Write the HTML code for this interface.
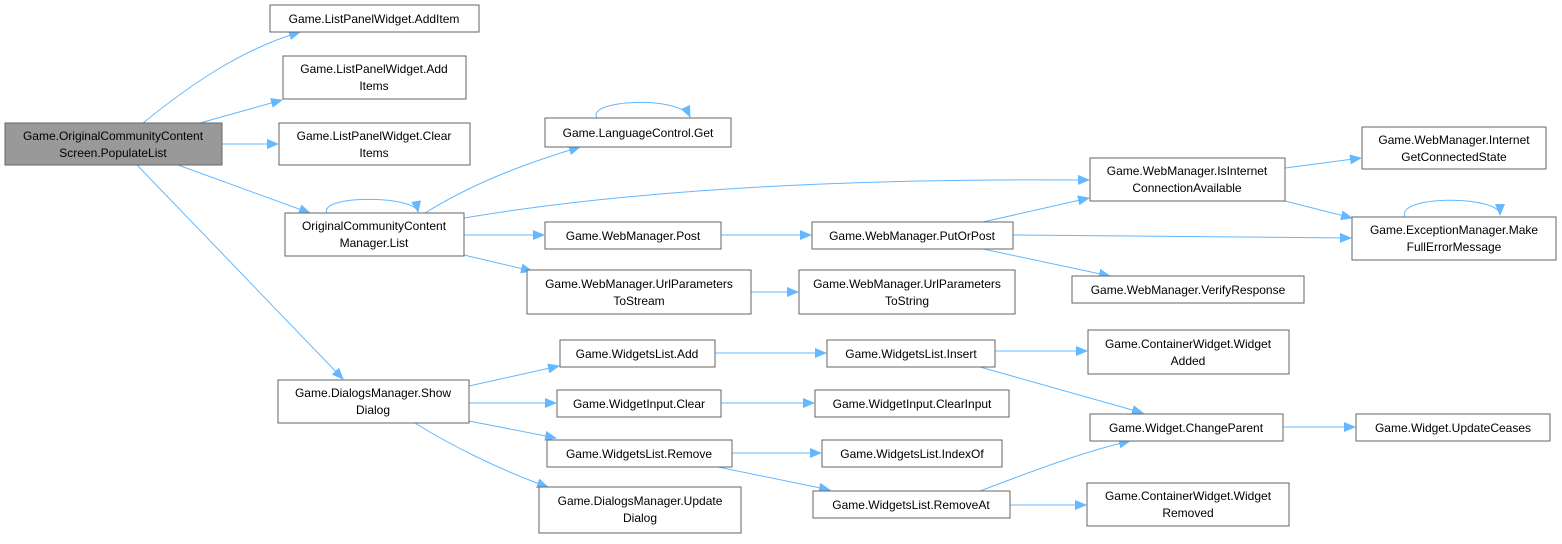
<!DOCTYPE html>
<html><head><meta charset="utf-8"><style>
html,body{margin:0;padding:0;background:#fff;}
svg text{font-family:"Liberation Sans",Arial,sans-serif;font-size:12px;fill:#000;text-anchor:middle;}
.b{fill:#fff;stroke:#666;stroke-width:1;}
.e{fill:none;stroke:#63b8ff;stroke-width:1;}
</style></head><body>
<svg width="1562" height="539" viewBox="0 0 1562 539" xmlns="http://www.w3.org/2000/svg">
<defs><marker id="a" markerWidth="12" markerHeight="10" refX="11" refY="5" orient="auto" markerUnits="userSpaceOnUse"><path d="M0,0 L12,5 L0,10 z" fill="#63b8ff"/></marker></defs>
<g class="e" marker-end="url(#a)">
<path d="M143,123 C190,85 240,50 300,32"/>
<path d="M200,123 L282,100"/>
<path d="M222,144 L278,144"/>
<path d="M178,165 L310,213"/>
<path d="M137,165 L343,379"/>
<path d="M327,213 C318,195 415,195 418,212"/>
<path d="M425,213 C470,185 520,165 580,147"/>
<path d="M597,118 C585,100 680,95 690,117"/>
<path d="M464,218 C600,195 800,178 1089,180"/>
<path d="M464,235 L544,235"/>
<path d="M464,255 L532,271"/>
<path d="M721,235 L811,235"/>
<path d="M751,292 L798,292"/>
<path d="M983,222 L1089,198"/>
<path d="M1013,235 L1351,238"/>
<path d="M983,249 L1110,276"/>
<path d="M1285,168 L1361,158"/>
<path d="M1285,201 L1352,218"/>
<path d="M1405,217 C1395,195 1500,195 1500,215"/>
<path d="M469,386 L559,366"/>
<path d="M469,403 L556,403"/>
<path d="M469,421 L556,438"/>
<path d="M415,423 C450,445 500,470 548,487"/>
<path d="M715,353 L826,353"/>
<path d="M721,403 L814,403"/>
<path d="M732,453 L821,453"/>
<path d="M718,467 L830,490"/>
<path d="M995,351 L1087,351"/>
<path d="M980,367 L1143,413"/>
<path d="M980,491 C1040,468 1090,450 1130,441"/>
<path d="M1010,505 L1086,505"/>
<path d="M1283,427 L1355,427"/>
</g>
<rect x="5" y="123" width="217" height="42" fill="#999" stroke="#666"/>
<text x="113" y="140">Game.OriginalCommunityContent</text><text x="113" y="157">Screen.PopulateList</text>
<rect class="b" x="270" y="5" width="209" height="27"/><text x="374" y="23">Game.ListPanelWidget.AddItem</text>
<rect class="b" x="283" y="56" width="183" height="43"/><text x="374" y="73">Game.ListPanelWidget.Add</text><text x="374" y="90">Items</text>
<rect class="b" x="279" y="123" width="191" height="42"/><text x="374" y="140">Game.ListPanelWidget.Clear</text><text x="374" y="157">Items</text>
<rect class="b" x="285" y="213" width="179" height="43"/><text x="374" y="230">OriginalCommunityContent</text><text x="374" y="247">Manager.List</text>
<rect class="b" x="545" y="118" width="186" height="29"/><text x="638" y="137">Game.LanguageControl.Get</text>
<rect class="b" x="1090" y="158" width="195" height="43"/><text x="1187" y="175">Game.WebManager.IsInternet</text><text x="1187" y="192">ConnectionAvailable</text>
<rect class="b" x="1362" y="127" width="184" height="42"/><text x="1454" y="144">Game.WebManager.Internet</text><text x="1454" y="161">GetConnectedState</text>
<rect class="b" x="1352" y="217" width="204" height="43"/><text x="1454" y="234">Game.ExceptionManager.Make</text><text x="1454" y="251">FullErrorMessage</text>
<rect class="b" x="1072" y="276" width="232" height="27"/><text x="1188" y="294">Game.WebManager.VerifyResponse</text>
<rect class="b" x="545" y="222" width="176" height="27"/><text x="633" y="240">Game.WebManager.Post</text>
<rect class="b" x="812" y="222" width="201" height="27"/><text x="912" y="240">Game.WebManager.PutOrPost</text>
<rect class="b" x="527" y="270" width="224" height="44"/><text x="639" y="288">Game.WebManager.UrlParameters</text><text x="639" y="305">ToStream</text>
<rect class="b" x="799" y="270" width="216" height="44"/><text x="907" y="288">Game.WebManager.UrlParameters</text><text x="907" y="305">ToString</text>
<rect class="b" x="278" y="380" width="191" height="43"/><text x="373" y="397">Game.DialogsManager.Show</text><text x="373" y="414">Dialog</text>
<rect class="b" x="560" y="340" width="155" height="27"/><text x="637" y="358">Game.WidgetsList.Add</text>
<rect class="b" x="557" y="390" width="164" height="27"/><text x="639" y="408">Game.WidgetInput.Clear</text>
<rect class="b" x="547" y="440" width="185" height="27"/><text x="639" y="458">Game.WidgetsList.Remove</text>
<rect class="b" x="539" y="487" width="202" height="46"/><text x="640" y="505">Game.DialogsManager.Update</text><text x="640" y="522">Dialog</text>
<rect class="b" x="827" y="340" width="168" height="27"/><text x="911" y="358">Game.WidgetsList.Insert</text>
<rect class="b" x="815" y="390" width="194" height="27"/><text x="912" y="408">Game.WidgetInput.ClearInput</text>
<rect class="b" x="822" y="440" width="180" height="27"/><text x="912" y="458">Game.WidgetsList.IndexOf</text>
<rect class="b" x="813" y="491" width="197" height="27"/><text x="911" y="509">Game.WidgetsList.RemoveAt</text>
<rect class="b" x="1088" y="330" width="201" height="44"/><text x="1188" y="348">Game.ContainerWidget.Widget</text><text x="1188" y="365">Added</text>
<rect class="b" x="1090" y="414" width="193" height="27"/><text x="1186" y="432">Game.Widget.ChangeParent</text>
<rect class="b" x="1356" y="414" width="194" height="27"/><text x="1453" y="432">Game.Widget.UpdateCeases</text>
<rect class="b" x="1087" y="483" width="202" height="43"/><text x="1188" y="500">Game.ContainerWidget.Widget</text><text x="1188" y="517">Removed</text>
</svg>
</body></html>
